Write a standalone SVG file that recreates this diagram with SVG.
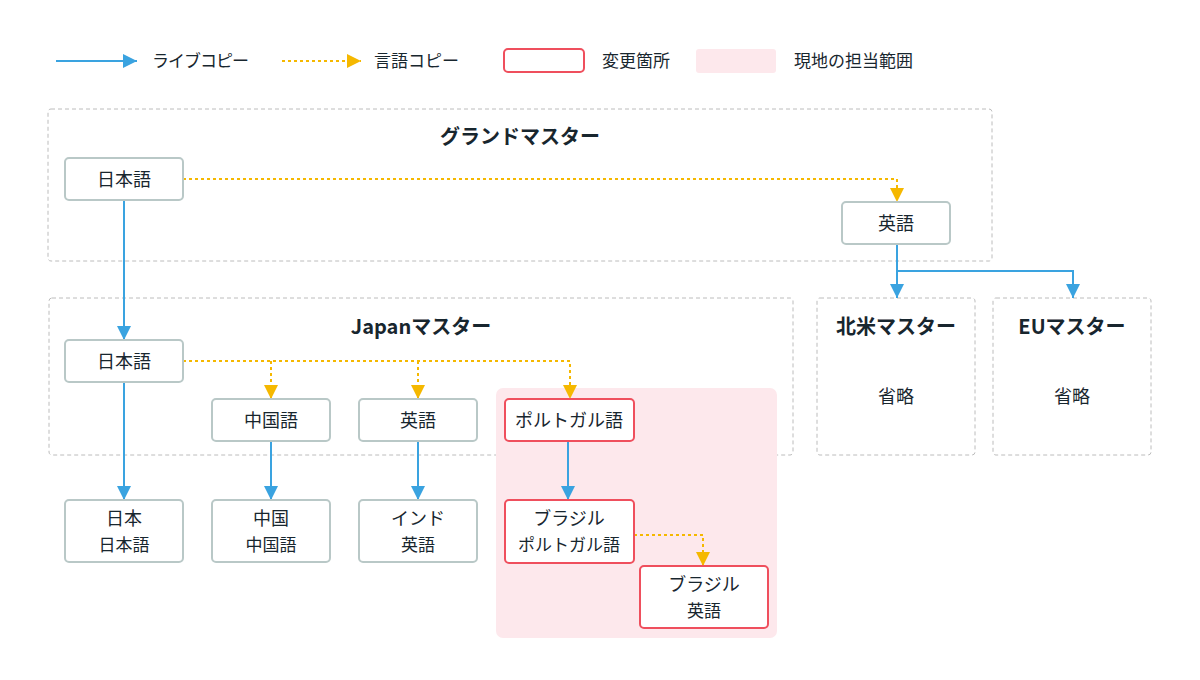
<svg xmlns="http://www.w3.org/2000/svg" width="1200" height="680" viewBox="0 0 1200 680">
<style>
text{font-family:"Noto Sans CJK JP","Noto Sans",sans-serif;fill:#18262e;text-anchor:middle}
.t{font-size:17px;text-anchor:start}
.title{font-size:20px;font-weight:bold}
.n{font-size:18px}
.s{font-size:17px}
.cont{fill:#fff;stroke:#bcbcbc;stroke-width:1;stroke-dasharray:4 3}
.node{fill:#fff;stroke:#b9c8c7;stroke-width:2}
.red{fill:#fff;stroke:#ef4f5d;stroke-width:2}
.live{fill:none;stroke:#3aa3e0;stroke-width:2;marker-end:url(#ab)}
.lang{fill:none;stroke:#f5b800;stroke-width:2;stroke-dasharray:3 3;marker-end:url(#ay)}
</style>
<defs>
<marker id="ab" viewBox="0 0 12 12" refX="12" refY="6" markerWidth="14" markerHeight="14" markerUnits="userSpaceOnUse" orient="auto"><path d="M0,0 L12,6 L0,12 z" fill="#3aa3e0"/></marker>
<marker id="ay" viewBox="0 0 12 12" refX="12" refY="6" markerWidth="14" markerHeight="14" markerUnits="userSpaceOnUse" orient="auto"><path d="M0,0 L12,6 L0,12 z" fill="#f5b800"/></marker>
</defs>
<rect width="1200" height="680" fill="#fff"/>
<g id="legend">
<line x1="56" y1="61" x2="137" y2="61" class="live"/>
<text x="152" y="67" class="t" letter-spacing="-1">ライブコピー</text>
<line x1="282" y1="61" x2="361" y2="61" class="lang"/>
<text x="374" y="67" class="t">言語コピー</text>
<rect x="504" y="49" width="80" height="23" rx="4" class="red"/>
<text x="602" y="67" class="t">変更箇所</text>
<rect x="696" y="49" width="80" height="24" rx="3" fill="#fde8ec"/>
<text x="794" y="67" class="t">現地の担当範囲</text>
</g>
<g id="grand-master">
<rect x="48" y="109" width="944" height="152" rx="3" class="cont"/>
<text x="520" y="144" class="title">グランドマスター</text>
</g>
<g id="japan-master">
<rect x="49" y="298" width="744" height="157" rx="3" class="cont"/>
<text x="421" y="334" class="title">Japanマスター</text>
</g>
<g id="local-area">
<rect x="496" y="388" width="281" height="250" rx="7" fill="#fde8ec"/>
</g>
<g id="na-master">
<rect x="817" y="298" width="158" height="157" rx="3" class="cont"/>
<text x="896" y="334" class="title">北米マスター</text>
<text x="896" y="403" class="n">省略</text>
</g>
<g id="eu-master">
<rect x="993" y="298" width="158" height="157" rx="3" class="cont"/>
<text x="1072" y="334" class="title">EUマスター</text>
<text x="1072" y="403" class="n">省略</text>
</g>
<g id="connectors">
<line x1="124" y1="200" x2="124" y2="340" class="live"/>
<polyline points="183,179 897,179 897,202" class="lang"/>
<line x1="897" y1="244" x2="897" y2="298" class="live"/>
<polyline points="897,271 1073,271 1073,298" class="live"/>
<polyline points="183,361 570,361 570,399" class="lang"/>
<line x1="271" y1="361" x2="271" y2="399" class="lang"/>
<line x1="418" y1="361" x2="418" y2="399" class="lang"/>
<line x1="124" y1="382" x2="124" y2="500" class="live"/>
<line x1="271" y1="441" x2="271" y2="500" class="live"/>
<line x1="418" y1="441" x2="418" y2="500" class="live"/>
<line x1="568" y1="441" x2="568" y2="500" class="live"/>
<polyline points="634,535 703,535 703,566" class="lang"/>
</g>
<g id="gm-ja"><rect x="65" y="158" width="118" height="42" rx="4" class="node"/><text x="124" y="186" class="n">日本語</text></g>
<g id="gm-en"><rect x="842" y="202" width="108" height="42" rx="4" class="node"/><text x="896" y="230" class="n">英語</text></g>
<g id="jp-ja"><rect x="65" y="340" width="118" height="42" rx="4" class="node"/><text x="124" y="368" class="n">日本語</text></g>
<g id="jp-zh"><rect x="212" y="399" width="118" height="42" rx="4" class="node"/><text x="271" y="427" class="n">中国語</text></g>
<g id="jp-en"><rect x="359" y="399" width="118" height="42" rx="4" class="node"/><text x="418" y="427" class="n">英語</text></g>
<g id="jp-pt"><rect x="505" y="399" width="129" height="42" rx="4" class="red"/><text x="569" y="427" class="n">ポルトガル語</text></g>
<g id="japan-ja"><rect x="65" y="500" width="118" height="62" rx="4" class="node"/><text x="124" y="525" class="n">日本</text><text x="124" y="551" class="s">日本語</text></g>
<g id="china-zh"><rect x="212" y="500" width="118" height="62" rx="4" class="node"/><text x="271" y="525" class="n">中国</text><text x="271" y="551" class="s">中国語</text></g>
<g id="india-en"><rect x="359" y="500" width="118" height="62" rx="4" class="node"/><text x="418" y="525" class="n">インド</text><text x="418" y="551" class="s">英語</text></g>
<g id="brazil-pt"><rect x="505" y="500" width="129" height="63" rx="4" class="red"/><text x="569" y="525" class="n">ブラジル</text><text x="569" y="551" class="s">ポルトガル語</text></g>
<g id="brazil-en"><rect x="640" y="566" width="128" height="62" rx="4" class="red"/><text x="704" y="591" class="n">ブラジル</text><text x="704" y="617" class="s">英語</text></g>
</svg>
